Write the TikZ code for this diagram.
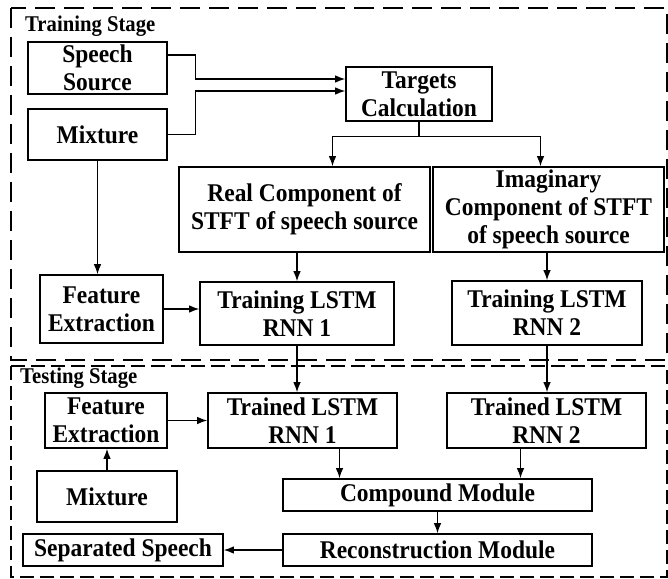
\documentclass[tikz,border=0pt]{standalone}
\usepackage{fontspec}
\setmainfont[FakeStretch=0.92]{Liberation Serif}
\usetikzlibrary{arrows.meta,calc}

\begin{document}
\begin{tikzpicture}[x=1pt, y=-1pt,
    box/.style = {draw, line width=1.6pt, inner sep=0pt, align=center,
                  font=\bfseries\fontsize{25.5}{28}\selectfont},
    conn/.style = {line width=1.2pt, -{Latex[length=10pt,width=7.5pt]}},
    stage/.style = {draw, line width=1.8pt, dash pattern=on 20pt off 9pt},
    stagelabel/.style = {inner sep=0pt, anchor=base west,
                         font=\bfseries\fontsize{22.5}{24}\selectfont}]
  \useasboundingbox (0,0) rectangle (668,578);

  % training stage
  \draw[stage] (11,8) rectangle (667,360);
  \node[stagelabel] (trainlbl) at (25,31) {Training Stage};

  \node[box, minimum width=139, minimum height=52] (src)   at (97.5,68)    {Speech\\Source};
  \node[box, minimum width=139, minimum height=51] (mixA)  at (97.5,134.5) {Mixture};
  \node[box, minimum width=146, minimum height=54] (targ)  at (419,94)     {Targets\\Calculation};
  \node[box, minimum width=251, minimum height=85] (real)  at (304.5,209.5) {Real Component of\\STFT of speech source};
  \node[box, minimum width=231, minimum height=85] (imag)  at (548.5,209.5) {Imaginary\\Component of STFT\\of speech source};
  \node[box, minimum width=123, minimum height=68] (featA) at (101.5,309)  {Feature\\Extraction};
  \node[box, minimum width=194, minimum height=63] (trainA) at (297,313.5) {Training LSTM\\RNN 1};
  \node[box, minimum width=190, minimum height=64] (trainB) at (547,313)   {Training LSTM\\RNN 2};

  \draw[conn] ([yshift=13pt]src.east) -- ++(28,0) |- ([yshift=15pt]targ.west);
  \draw[conn] (mixA.east) -- ++(28,0) |- ([yshift=3pt]targ.west);
  \draw[conn] (targ.south) -- ++(0,15) coordinate (split) -| ([xshift=28pt]real.north);
  \draw[conn] (split) -| ([xshift=-8pt]imag.north);
  \draw[conn] (mixA.south) -- (mixA.south |- featA.north);
  \draw[conn] (featA.east) -- (featA.east -| trainA.west);
  \draw[conn] (trainA.north |- real.south) -- (trainA.north);
  \draw[conn] (trainB.north |- imag.south) -- (trainB.north);

  % testing stage
  \draw[stage, dash pattern=on 14pt off 6pt] (11,366) rectangle (667,577);
  \node[stagelabel] (testlbl) at (20,383) {Testing Stage};

  \node[box, minimum width=122, minimum height=55] (featB)    at (106,420.5)   {Feature\\Extraction};
  \node[box, minimum width=189, minimum height=55] (trainedA) at (302.5,420.5) {Trained LSTM\\RNN 1};
  \node[box, minimum width=199, minimum height=55] (trainedB) at (546.5,420.5) {Trained LSTM\\RNN 2};
  \node[box, minimum width=140, minimum height=51] (mixB)     at (107,496.5)   {Mixture};
  \node[box, minimum width=309, minimum height=32] (comp)     at (437.5,495)   {Compound Module};
  \node[box, minimum width=309, minimum height=32] (recon)    at (437.5,550)   {Reconstruction Module};
  \node[box, minimum width=200, minimum height=32] (sep)      at (123,550)     {Separated Speech};

  \draw[conn] (trainA.south) -- (trainA.south |- trainedA.north);
  \draw[conn] (trainB.south) -- (trainB.south |- trainedB.north);
  \draw[conn] (mixB.north) -- (mixB.north |- featB.south);
  \draw[conn] (featB.east) -- (featB.east -| trainedA.west);
  \draw[conn] ([xshift=37pt]trainedA.south) coordinate (t1) -- (t1 |- comp.north);
  \draw[conn] ([xshift=-26pt]trainedB.south) coordinate (t2) -- (t2 |- comp.north);
  \draw[conn] (comp.south) -- (recon.north);
  \draw[conn] (recon.west) -- (sep.east);
\end{tikzpicture}
\end{document}
